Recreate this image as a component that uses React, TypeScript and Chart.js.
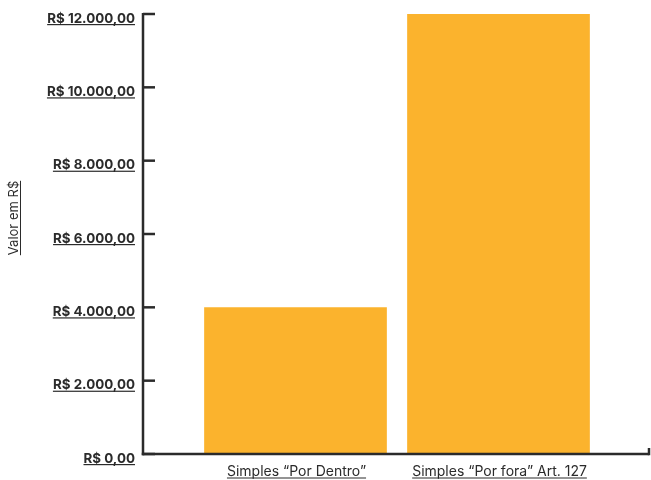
import React, { useEffect, useRef } from "react";
import { Chart, registerables } from "chart.js";

Chart.register(...registerables);

const categories = ["Simples \u201cPor Dentro\u201d", "Simples \u201cPor fora\u201d Art. 127"];
const values = [4000, 12000];
const yTickValues = [0, 2000, 4000, 6000, 8000, 10000, 12000];
const yTickLabels = ["R$ 0,00", "R$ 2.000,00", "R$ 4.000,00", "R$ 6.000,00", "R$ 8.000,00", "R$ 10.000,00", "R$ 12.000,00"];
const yTitle = "Valor em R$";

const AXIS = "#2b2b2b";
const TEXT = "#2b2b2b";
const FONT = "Inter, 'Open Sans', sans-serif";

const decor = {
  id: "decor",
  afterDraw(chart: any) {
    const ctx = chart.ctx;
    const y = chart.scales.y;
    const x = chart.scales.x;
    const axisX = 143;
    const axisRight = 649;
    const bottom = y.getPixelForValue(0);
    const top = y.getPixelForValue(12000);
    ctx.save();
    ctx.strokeStyle = AXIS;
    ctx.lineWidth = 2.5;
    ctx.lineCap = "butt";
    ctx.beginPath();
    ctx.moveTo(axisX, top - 1);
    ctx.lineTo(axisX, bottom + 1.25);
    ctx.stroke();
    ctx.beginPath();
    ctx.moveTo(axisX - 1.25, bottom);
    ctx.lineTo(axisRight, bottom);
    ctx.stroke();
    ctx.beginPath();
    ctx.moveTo(axisRight, bottom + 1.25);
    ctx.lineTo(axisRight, bottom - 6);
    ctx.stroke();
    ctx.font = "bold 13.4px " + FONT;
    ctx.fillStyle = TEXT;
    ctx.textAlign = "right";
    ctx.textBaseline = "alphabetic";
    yTickValues.forEach((v, i) => {
      const py = y.getPixelForValue(v);
      ctx.beginPath();
      ctx.moveTo(axisX, py);
      ctx.lineTo(axisX + 12, py);
      ctx.stroke();
      const label = yTickLabels[i];
      const bx = 135;
      const by = py + 8.5;
      ctx.fillText(label, bx, by);
      const w = ctx.measureText(label).width;
      ctx.fillRect(bx - w, by + 1.5, w, 1.2);
    });
    ctx.font = "14px " + FONT;
    ctx.textAlign = "center";
    categories.forEach((c, i) => {
      const px = x.getPixelForValue(i) + 1;
      const by = 476;
      ctx.fillText(c, px, by);
      const w = ctx.measureText(c).width;
      ctx.fillRect(px - w / 2, by + 1.5, w, 1);
    });
    ctx.font = "13px " + FONT;
    ctx.translate(18, 218);
    ctx.rotate(-Math.PI / 2);
    ctx.textAlign = "center";
    ctx.fillText(yTitle, 0, 0);
    const tw = ctx.measureText(yTitle).width;
    ctx.fillRect(-tw / 2, 2, tw, 1);
    ctx.restore();
  },
};

export default function App() {
  const ref = useRef<HTMLCanvasElement>(null);
  useEffect(() => {
    if (!ref.current) return;
    const chart = new Chart(ref.current, {
      type: "bar",
      data: {
        labels: categories,
        datasets: [
          {
            data: values,
            backgroundColor: "#FBB32D",
            borderWidth: 0,
            categoryPercentage: 0.9,
            barPercentage: 1,
          },
        ],
      },
      options: {
        animation: false,
        responsive: false,
        layout: { padding: { left: 194, right: 51, top: 14, bottom: 26 } },
        plugins: { legend: { display: false }, tooltip: { enabled: false } },
        scales: {
          x: {
            ticks: { display: false },
            grid: { display: false, drawTicks: false },
            border: { display: false },
          },
          y: {
            min: 0,
            max: 12000,
            ticks: { display: false, stepSize: 2000 },
            grid: { display: false, drawTicks: false },
            border: { display: false },
          },
        },
      },
      plugins: [decor],
    });
    return () => chart.destroy();
  }, []);
  return (
    <div style={{ position: "absolute", left: 0, top: 0, width: 651, height: 480, background: "#fff" }}>
      <canvas ref={ref} width={651} height={480} />
    </div>
  );
}
